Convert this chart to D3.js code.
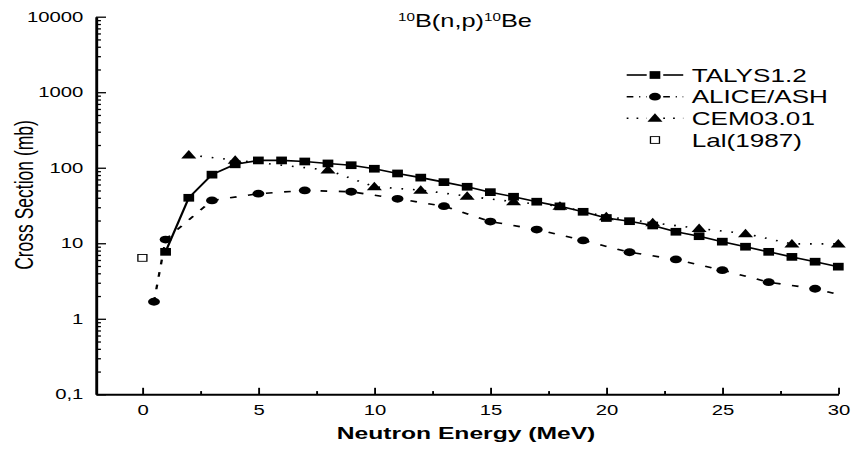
<!DOCTYPE html>
<html>
<head>
<meta charset="utf-8">
<script src="https://cdn.jsdelivr.net/npm/d3@7"></script>
<style>
  body { margin: 0; background: #fff; }
  svg { display: block; font-family: "Liberation Sans", Arial, sans-serif; }
</style>
</head>
<body>
<div class="chart"></div>
<script>
// data
const talysE = [1, 2, 3, 4, 5, 6, 7, 8, 9, 10, 11, 12, 13, 14, 15, 16, 17, 18, 19, 20, 21, 22, 23, 24, 25, 26, 27, 28, 29, 30];
const talysV = [7.7, 40, 81, 111, 125, 125, 121, 114, 108, 97, 84, 74, 64.5, 56, 47.5, 41.3, 35.5, 30.8, 26.1, 21.6, 19.6, 17.2, 14.2, 12.4, 10.5, 9.0, 7.7, 6.6, 5.7, 4.9];
const aliceE = [0.5, 1, 3, 5, 7, 9, 11, 13, 15, 17, 19, 21, 23, 25, 27, 29, 30];
const aliceV = [1.68, 11.2, 36.9, 45.3, 50, 48.1, 38.8, 31, 19.4, 15.2, 10.9, 7.6, 6.1, 4.4, 3.05, 2.5, 2.1];
const cemE = [2, 4, 8, 10, 12, 14, 16, 18, 20, 22, 24, 26, 28, 30];
const cemV = [148, 126, 93, 56, 50.5, 42, 35.5, 31, 22.5, 18.7, 15.7, 13.4, 9.8, 9.8];
const lalE = [0];
const lalV = [6.4];

const seriesNames = ["TALYS1.2", "ALICE/ASH", "CEM03.01", "Lal(1987)"];
const xTicks = [0, 5, 10, 15, 20, 25, 30];
const xMinorTicks = [2.5, 7.5, 12.5, 17.5, 22.5, 27.5];
const yTicks = [0.1, 1, 10, 100, 1000, 10000];
const yTickLabels = ["0,1", "1", "10", "100", "1000", "10000"];

// the original picture is stretched sideways, so draw in a narrower box and stretch it
const S = 1.45;
const W = 851, H = 450;
const VW = W / S;

const svg = d3.select("div.chart").append("svg")
  .attr("width", W)
  .attr("height", H)
  .attr("viewBox", `0 0 ${VW} ${H}`)
  .attr("preserveAspectRatio", "none");

const x = d3.scaleLinear().domain([-2, 30]).range([96 / S, 838.3 / S]);
const y = d3.scaleLog().domain([0.1, 10000]).range([394.3, 16.7]);

let yMinor = [];
[0.1, 1, 10, 100, 1000].forEach(d => {
  for (let k = 2; k <= 9; k++) yMinor.push(d * k);
});

// axes
const xAxis = svg.append("g")
  .attr("transform", `translate(0,${y(0.1)})`)
  .call(d3.axisBottom(x).tickValues(xTicks).tickSize(-6.5).tickSizeOuter(0).tickPadding(10.5)
    .tickFormat(d3.format("d")));
svg.append("g")
  .attr("transform", `translate(0,${y(0.1)})`)
  .call(d3.axisBottom(x).tickValues(xMinorTicks).tickSize(-3.2).tickSizeOuter(0).tickFormat(""))
  .select(".domain").remove();

const yAxis = svg.append("g")
  .attr("transform", `translate(${x(-2)},0)`)
  .call(d3.axisLeft(y).tickValues(yTicks).tickSize(-6.9).tickSizeOuter(0).tickPadding(8.7)
    .tickFormat((d, i) => yTickLabels[i]));
svg.append("g")
  .attr("transform", `translate(${x(-2)},0)`)
  .call(d3.axisLeft(y).tickValues(yMinor).tickSize(-3.4).tickSizeOuter(0).tickFormat(""))
  .select(".domain").remove();

svg.selectAll(".domain").attr("stroke", "#000").attr("stroke-width", 2);
svg.selectAll(".tick line").attr("stroke", "#000").attr("stroke-width", 1.3);
svg.selectAll(".tick text")
  .attr("fill", "#000")
  .style("font-size", "14px")
  .style("font-family", "'Liberation Sans', Arial, sans-serif");

// titles
const title = svg.append("text")
  .attr("x", 465 / S)
  .attr("y", 26.7)
  .attr("text-anchor", "middle")
  .style("font-size", "17.5px");
title.append("tspan").attr("dy", -6).style("font-size", "10.5px").text("10");
title.append("tspan").attr("dy", 6).text("B(n,p)");
title.append("tspan").attr("dy", -6).style("font-size", "10.5px").text("10");
title.append("tspan").attr("dy", 6).text("Be");

svg.append("text")
  .attr("x", 466 / S)
  .attr("y", 439)
  .attr("text-anchor", "middle")
  .style("font-size", "17px")
  .style("font-weight", "bold")
  .text("Neutron Energy (MeV)");

svg.append("text")
  .attr("transform", `translate(${33 / S},195) rotate(-90)`)
  .attr("text-anchor", "middle")
  .style("font-size", "17.5px")
  .text("Cross Section (mb)");

// marker shapes, in box units
function marker(sel, kind) {
  if (kind === "square") {
    sel.append("rect").attr("x", -3.7).attr("y", -3.85).attr("width", 7.4).attr("height", 7.7).attr("fill", "#000");
  } else if (kind === "circle") {
    sel.append("ellipse").attr("rx", 4.1).attr("ry", 3.9).attr("fill", "#000");
  } else if (kind === "triangle") {
    sel.append("path").attr("d", "M0,-5L5.2,3.5L-5.2,3.5Z").attr("fill", "#000");
  } else {
    sel.append("rect").attr("x", -3.1).attr("y", -3.4).attr("width", 6.2).attr("height", 6.8)
      .attr("fill", "#fff").attr("stroke", "#000").attr("stroke-width", 0.9);
  }
}

const series = [
  { name: seriesNames[0], e: talysE, v: talysV, kind: "square", dash: null, legendDash: null },
  { name: seriesNames[1], e: aliceE, v: aliceV, kind: "circle", dash: "4.6,8", legendDash: "4.6,4,0.8,4", lastBare: true },
  { name: seriesNames[2], e: cemE, v: cemV, kind: "triangle", dash: "1.2,6.8", legendDash: "1.2,5.6" },
  { name: seriesNames[3], e: lalE, v: lalV, kind: "open", noLine: true }
];

const line = d3.line().x(d => x(d[0])).y(d => y(d[1]));

series.forEach(s => {
  let pts = s.e.map((d, i) => [d, s.v[i]]);
  if (!s.noLine) {
    svg.append("path")
      .attr("d", line(pts))
      .attr("fill", "none")
      .attr("stroke", "#000")
      .attr("stroke-width", 1.6)
      .attr("stroke-dasharray", s.dash);
  }
  // ALICE line runs on to 30 MeV without a marker there
  let marked = s.lastBare ? pts.slice(0, -1) : pts;
  svg.selectAll(null)
    .data(marked)
    .enter().append("g")
    .attr("transform", d => `translate(${x(d[0])},${y(d[1])})`)
    .each(function() { marker(d3.select(this), s.kind); });
});

// legend
const legend = svg.append("g");
const rowY = [75, 96.7, 118.3, 140];
series.forEach((s, i) => {
  let g = legend.append("g").attr("transform", `translate(0,${rowY[i]})`);
  if (!s.noLine) {
    [[432.2, 446], [457.4, 471.2]].forEach(seg => {
      g.append("line")
        .attr("x1", seg[0]).attr("x2", seg[1])
        .attr("stroke", "#000")
        .attr("stroke-width", 1.6)
        .attr("stroke-dasharray", s.legendDash);
    });
  }
  let m = g.append("g").attr("transform", "translate(451.7,0)");
  marker(m, s.kind);
  g.append("text")
    .attr("x", 477)
    .attr("y", 6.6)
    .style("font-size", "18px")
    .text(s.name);
});
</script>
</body>
</html>
